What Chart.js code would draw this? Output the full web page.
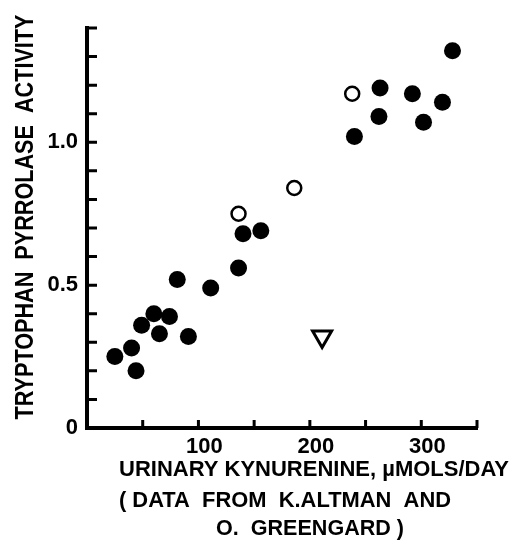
<!DOCTYPE html>
<html>
<head>
<meta charset="utf-8">
<script src="https://cdn.jsdelivr.net/npm/chart.js@4.4.0/dist/chart.umd.min.js"></script>
<style>
  body { margin: 0; background: #fff; }
</style>
</head>
<body>
<canvas id="myChart" width="515" height="542"></canvas>
<script>
// filled circles
let filledX = [25, 40, 44, 49, 60, 65, 74, 81, 91, 111, 136, 140, 156, 240, 262, 263, 292, 302, 319, 328];
let filledY = [0.25, 0.28, 0.20, 0.36, 0.40, 0.33, 0.39, 0.52, 0.32, 0.49, 0.56, 0.68, 0.69, 1.02, 1.09, 1.19, 1.17, 1.07, 1.14, 1.32];
// open circles
let openX = [136, 186, 238];
let openY = [0.75, 0.84, 1.17];
// the single triangle
let triangleX = [211];
let triangleY = [0.32];

let xLabelValues = [100, 200, 300];
let yLabelValues = [0, 0.5, 1.0];
let yLabelTexts = ['0', '0.5', '1.0'];

let yTitle = 'TRYPTOPHAN  PYRROLASE  ACTIVITY';
let xTitleLines = ['URINARY KYNURENINE, µMOLS/DAY', '( DATA  FROM  K.ALTMAN  AND', 'O.  GREENGARD )'];

function toPoints(xs, ys) {
    return xs.map((v, i) => ({x: v, y: ys[i]}));
}

const FONT = '"Liberation Sans", Arial, sans-serif';

// ticks in the old plot point inwards, draw them here
const innerTicks = {
    id: 'innerTicks',
    afterDatasetsDraw(chart) {
        const ctx = chart.ctx;
        const x = chart.scales.x, y = chart.scales.y;
        ctx.save();
        ctx.strokeStyle = '#000';
        ctx.lineWidth = 3;
        ctx.beginPath();
        y.ticks.forEach(t => {
            if (t.value === 0) return;
            const py = y.getPixelForValue(t.value);
            ctx.moveTo(x.left, py);
            ctx.lineTo(x.left + 10, py);
        });
        x.ticks.forEach(t => {
            if (t.value === 0) return;
            const px = x.getPixelForValue(t.value);
            ctx.moveTo(px, y.bottom);
            ctx.lineTo(px, y.bottom - 8);
        });
        ctx.stroke();
        ctx.restore();
    }
};

const paperText = {
    id: 'paperText',
    afterDraw(chart) {
        const ctx = chart.ctx;
        ctx.save();
        ctx.fillStyle = '#000';
        ctx.textAlign = 'center';
        ctx.textBaseline = 'middle';

        ctx.save();
        ctx.font = 'bold 25px ' + FONT;
        ctx.translate(26, 217);
        ctx.rotate(-Math.PI / 2);
        ctx.fillText(yTitle, 0, 0, 405);
        ctx.restore();

        ctx.font = 'bold 22px ' + FONT;
        ctx.fillText(xTitleLines[0], 314, 470, 398);
        ctx.fillText(xTitleLines[1], 285, 501, 332);
        ctx.fillText(xTitleLines[2], 310, 529, 188);
        ctx.restore();
    }
};

var ctx = document.getElementById('myChart').getContext('2d');
var myChart = new Chart(ctx, {
    type: 'scatter',
    data: {
        datasets: [{
            label: 'filled',
            data: toPoints(filledX, filledY),
            pointStyle: 'circle',
            pointRadius: 8.5,
            backgroundColor: '#000',
            borderColor: '#000',
            borderWidth: 0
        }, {
            label: 'open',
            data: toPoints(openX, openY),
            pointStyle: 'circle',
            pointRadius: 7,
            backgroundColor: '#fff',
            borderColor: '#000',
            borderWidth: 2.5
        }, {
            label: 'triangle',
            data: toPoints(triangleX, triangleY),
            pointStyle: 'triangle',
            rotation: 180,
            pointRadius: 11,
            backgroundColor: '#fff',
            borderColor: '#000',
            borderWidth: 3
        }]
    },
    options: {
        responsive: false,
        animation: false,
        layout: {
            padding: {left: 0, right: 38, top: 28, bottom: 0}
        },
        plugins: {
            legend: {display: false},
            tooltip: {enabled: false}
        },
        scales: {
            x: {
                type: 'linear',
                min: 0,
                max: 350,
                afterFit: s => { s.height = 114; },
                grid: {display: true, drawOnChartArea: false, drawTicks: false},
                border: {color: '#000', width: 4},
                ticks: {
                    stepSize: 50,
                    autoSkip: false,
                    maxRotation: 0,
                    padding: 6,
                    labelOffset: 6,
                    color: '#000',
                    font: {family: FONT, size: 22, weight: 'bold'},
                    callback: v => xLabelValues.includes(v) ? String(v) : ''
                }
            },
            y: {
                type: 'linear',
                min: 0,
                max: 1.4,
                afterFit: s => { s.width = 87; },
                grid: {display: true, drawOnChartArea: false, drawTicks: false},
                border: {color: '#000', width: 4},
                ticks: {
                    stepSize: 0.1,
                    autoSkip: false,
                    padding: 9,
                    color: '#000',
                    font: {family: FONT, size: 22, weight: 'bold'},
                    callback: v => {
                        const i = yLabelValues.findIndex(l => Math.abs(l - v) < 1e-6);
                        return i >= 0 ? yLabelTexts[i] : '';
                    }
                }
            }
        }
    },
    plugins: [innerTicks, paperText]
});
</script>
</body>
</html>
